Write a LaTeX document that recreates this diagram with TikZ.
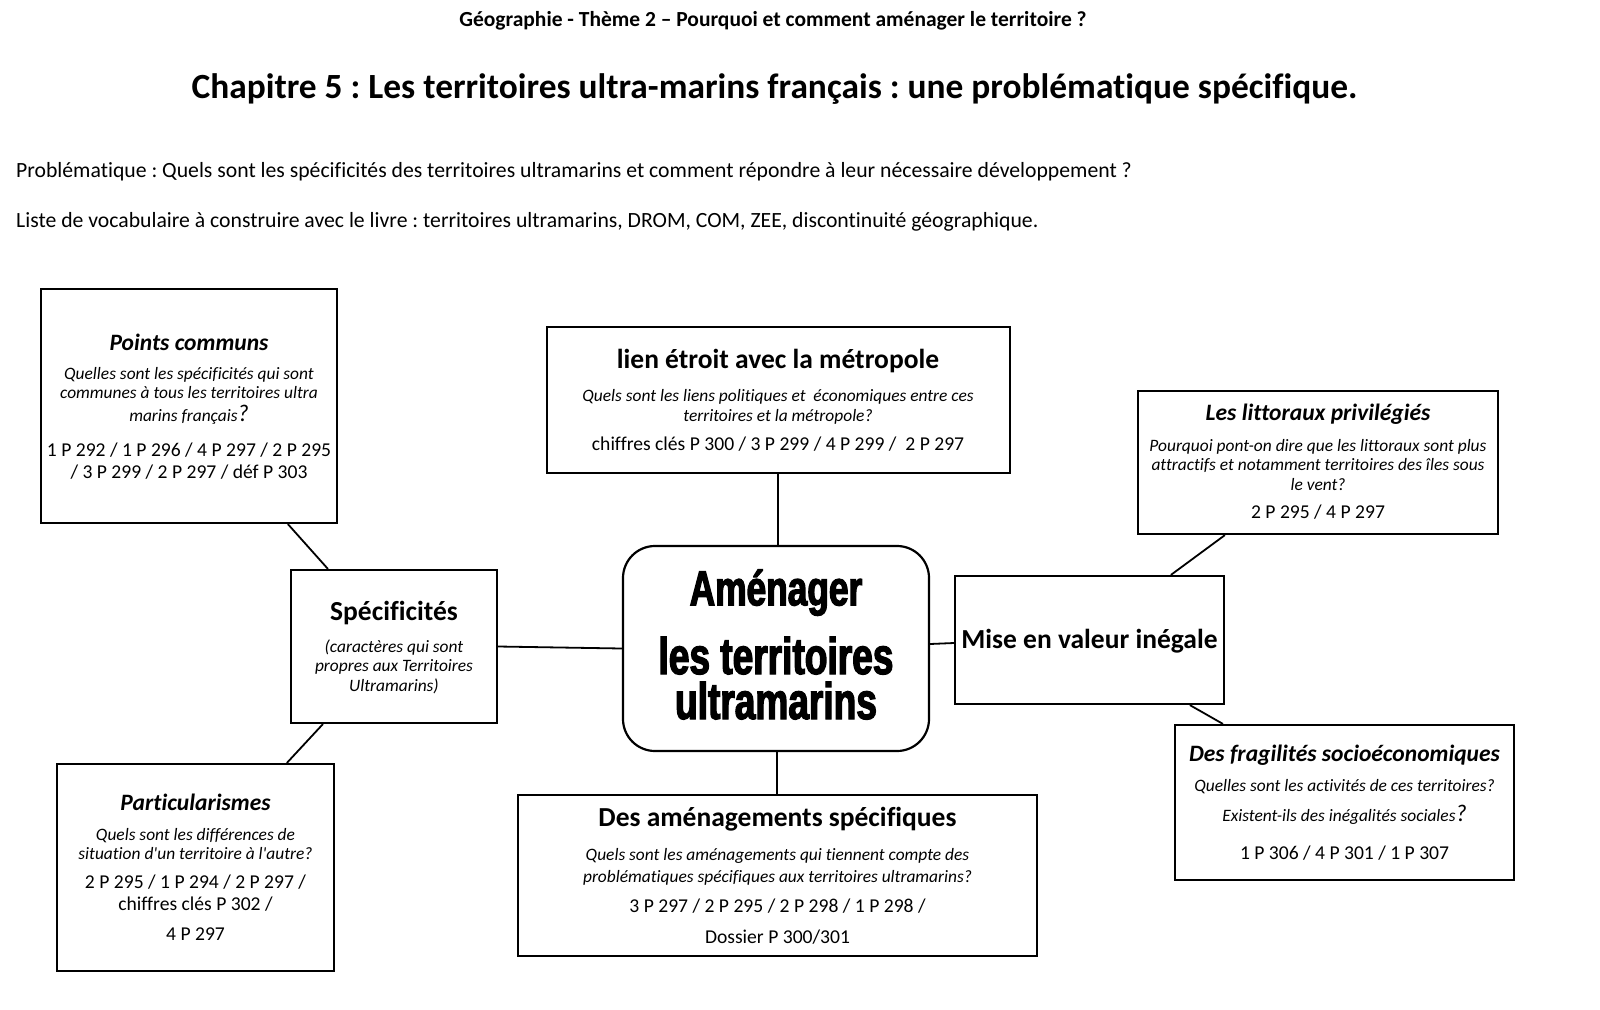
\documentclass[tikz,border=0pt]{standalone}
\usepackage{fontspec}
\setmainfont[Ligatures={NoCommon}]{Carlito}
\newfontfamily\impactfont[FakeStretch=0.72,BoldFeatures={FakeBold=2.5}]{Liberation Sans}
\frenchspacing
\begin{document}
\begin{tikzpicture}[x=1pt,y=-1pt,
  boxst/.style={draw, line width=2.2pt, inner sep=0pt},
  txt/.style={inner sep=0pt, anchor=base},
  hdr/.style={txt, font=\fontsize{21.5}{24}\selectfont\bfseries},
  chap/.style={txt, font=\fontsize{35.4}{38}\selectfont\bfseries},
  body/.style={inner sep=0pt, anchor=base west, font=\fontsize{21.7}{24}\selectfont},
  ttlup/.style={txt, font=\fontsize{27.5}{30}\selectfont\bfseries},
  ttlit/.style={txt, font=\fontsize{23.5}{26}\selectfont\bfseries\itshape},
  qst/.style={txt, font=\fontsize{17.4}{20}\selectfont\itshape},
  refs/.style={txt, font=\fontsize{19.6}{22}\selectfont},
  cenb/.style={txt, align=center, font=\impactfont\fontsize{51.5}{45}\selectfont\bfseries},
  link/.style={line width=1.8pt}]
\newcommand{\bigq}{{\fontsize{24}{24}\selectfont ?}}
\fill[white] (0,0) rectangle (1600,1009);
\useasboundingbox (0,0) rectangle (1600,1009);

% header texts
\node[hdr] (h1) at (773,26.5) {Géographie - Thème 2 – Pourquoi et comment aménager le territoire ?};
\node[chap] (h2) at (774.5,98) {Chapitre 5 : Les territoires ultra-marins français : une problématique spécifique.};
\node[body] (h3) at (16,177) {Problématique : Quels sont les spécificités des territoires ultramarins et comment répondre à leur nécessaire développement ?};
\node[body] (h4) at (16,227) {Liste de vocabulaire à construire avec le livre : territoires ultramarins, DROM, COM, ZEE, discontinuité géographique.};

% boxes
\node[boxst, minimum width=296, minimum height=234] (pc) at (189,406) {};
\node[boxst, minimum width=463, minimum height=146] (lien) at (778.5,400) {};
\node[boxst, minimum width=360, minimum height=143] (litt) at (1318,462.5) {};
\node[boxst, minimum width=206, minimum height=153] (spec) at (394,646.5) {};
\node[boxst, rounded corners=32pt, minimum width=306, minimum height=205] (cent) at (776,648.5) {};
\node[boxst, minimum width=269, minimum height=128] (mise) at (1089.5,640) {};
\node[boxst, minimum width=277, minimum height=207] (part) at (195.5,867.5) {};
\node[boxst, minimum width=519, minimum height=161] (amen) at (777.5,875.5) {};
\node[boxst, minimum width=339, minimum height=155] (frag) at (1344.5,802.5) {};

% connectors
\draw[link] ([xshift=248]pc.south west) -- ([xshift=38]spec.north west);
\draw[link] ([xshift=33]spec.south west) -- ([xshift=231]part.north west);
\draw[link] (spec.east) -- (cent.west);
\draw[link] ([xshift=-0.5]lien.south) -- ([xshift=-0.5]lien.south |- cent.north);
\draw[link] ([xshift=1]cent.south) -- ([xshift=1]cent.south |- amen.north);
\draw[link] ([yshift=4.5]cent.east) -- ([yshift=-3]mise.west);
\draw[link] ([xshift=217]mise.north west) -- ([xshift=88]litt.south west);
\draw[link] ([xshift=236]mise.south west) -- ([xshift=49]frag.north west);

% Points communs
\node[ttlit] (pc1) at (189,350) {Points communs};
\node[qst] (pc2) at (189,379) {Quelles sont les spécificités qui sont};
\node[qst] (pc3) at (189,398.5) {communes à tous les territoires ultra};
\node[qst] (pc4) at (189,421) {marins français\bigq};
\node[refs] (pc5) at (189,456) {1 P 292 / 1 P 296 / 4 P 297 / 2 P 295};
\node[refs] (pc6) at (189,478) {/ 3 P 299 / 2 P 297 / déf P 303};

% lien etroit
\node[ttlup] (li1) at (778,368) {lien étroit avec la métropole};
\node[qst] (li2) at (778,401.5) {Quels sont les liens politiques et~ économiques entre ces};
\node[qst] (li3) at (778,421) {territoires et la métropole?};
\node[refs] (li4) at (778,450) {chiffres clés P 300 / 3 P 299 / 4 P 299 /~ 2 P 297};

% littoraux
\node[ttlit] (lt1) at (1318,420) {Les littoraux privilégiés};
\node[qst] (lt2) at (1318,451) {Pourquoi pont-on dire que les littoraux sont plus};
\node[qst] (lt3) at (1318,470.5) {attractifs et notamment territoires des îles sous};
\node[qst] (lt4) at (1318,490) {le vent?};
\node[refs] (lt5) at (1318,518) {2 P 295 / 4 P 297};

% specificites
\node[ttlup] (sp1) at (394,620) {Spécificités};
\node[qst] (sp2) at (394,652) {(caractères qui sont};
\node[qst] (sp3) at (394,671) {propres aux Territoires};
\node[qst] (sp4) at (394,691) {Ultramarins)};

% central
\node[cenb] (ctext) at (776,719) {{\fontsize{49}{45}\selectfont Aménager}\\[20pt]les territoires\\ultramarins};

% mise en valeur
\node[ttlup] (mv) at (1089.5,648) {Mise en valeur inégale};

% particularismes
\node[ttlit] (pa1) at (195.5,810) {Particularismes};
\node[qst] (pa2) at (195.5,840) {Quels sont les différences de};
\node[qst] (pa3) at (195.5,859.5) {situation d\textquotesingle un territoire à l\textquotesingle autre?};
\node[refs] (pa4) at (195.5,888) {2 P 295 / 1 P 294 / 2 P 297 /};
\node[refs] (pa5) at (195.5,910) {chiffres clés P 302 /};
\node[refs] (pa6) at (195.5,940) {4 P 297};

% amenagements
\node[ttlup] (am1) at (777.5,826) {Des aménagements spécifiques};
\node[qst] (am2) at (777.5,860.5) {Quels sont les aménagements qui tiennent compte des};
\node[qst] (am3) at (777.5,882) {problématiques spécifiques aux territoires ultramarins?};
\node[refs] (am4) at (777.5,912) {3 P 297 / 2 P 295 / 2 P 298 / 1 P 298 /};
\node[refs] (am5) at (777.5,943) {Dossier P 300/301};

% fragilites
\node[ttlit] (fr1) at (1344.5,761) {Des fragilités socioéconomiques};
\node[qst] (fr2) at (1344.5,791) {Quelles sont les activités de ces territoires?};
\node[qst] (fr3) at (1344.5,821.5) {Existent-ils des inégalités sociales\bigq};
\node[refs] (fr4) at (1344.5,859) {1 P 306 / 4 P 301 / 1 P 307};
\end{tikzpicture}
\end{document}
